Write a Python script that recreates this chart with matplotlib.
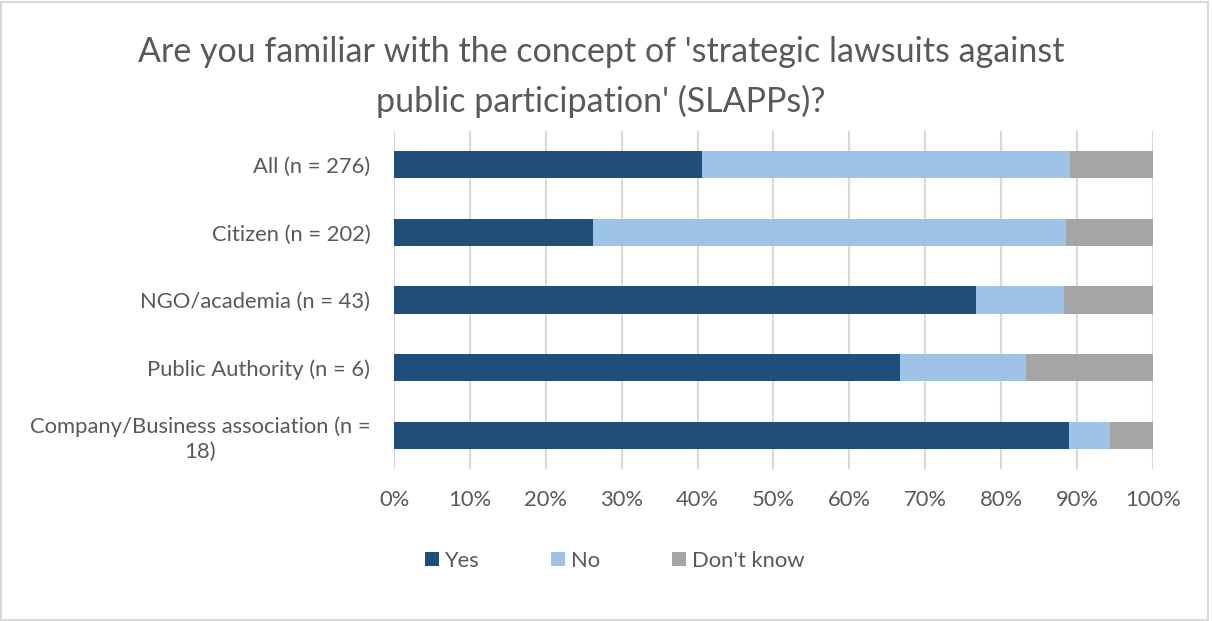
import matplotlib
matplotlib.use("Agg")
import matplotlib.pyplot as plt
from matplotlib.patches import Rectangle, Patch
from matplotlib.ticker import PercentFormatter

categories = ["All (n = 276)", "Citizen (n = 202)", "NGO/academia (n = 43)",
              "Public Authority (n = 6)", "Company/Business association (n =\n18)"]
yes = [40.6, 26.2, 76.7, 66.7, 88.9]
no = [48.5, 62.4, 11.6, 16.6, 5.5]
dont_know = [10.9, 11.4, 11.7, 16.7, 5.6]
series_names = ["Yes", "No", "Don't know"]
colors = ["#1F4E79", "#9DC3E6", "#A5A5A5"]
xticks = [0, 10, 20, 30, 40, 50, 60, 70, 80, 90, 100]
title_lines = ["Are you familiar with the concept of 'strategic lawsuits against",
               "public participation' (SLAPPs)?"]

plt.rcParams['font.family'] = ['Lato', 'DejaVu Sans']
text_color = "#595959"
grid_color = "#D9D9D9"

fig = plt.figure(figsize=(12.12, 6.21), dpi=100)
ax = fig.add_axes([0.3251, 0.2448, 0.9513 - 0.3251, 0.789 - 0.2448])

ypos = list(range(len(categories)))
left = [0] * len(categories)
for vals, name, col in zip([yes, no, dont_know], series_names, colors):
    ax.barh(ypos, vals, left=left, height=0.4, color=col, label=name, zorder=3)
    left = [l + v for l, v in zip(left, vals)]

ax.set_xlim(0, 100)
ax.set_ylim(len(categories) - 0.5, -0.5)
ax.set_yticks(ypos)
ax.set_yticklabels(categories, multialignment='center', linespacing=1.3)
ax.set_xticks(xticks)
ax.xaxis.set_major_formatter(PercentFormatter(decimals=0))
ax.tick_params(axis='both', length=0, labelsize=15.8, labelcolor=text_color)
ax.tick_params(axis='x', pad=15)
ax.tick_params(axis='y', pad=17)
for s in ax.spines.values():
    s.set_visible(False)
ax.grid(axis='x', color=grid_color, linewidth=1.5, zorder=0)

fig.text(601 / 1212, 1 - 62 / 621, title_lines[0],
         ha='center', va='baseline', fontsize=24.5, color=text_color)
fig.text(601 / 1212, 1 - 112 / 621, title_lines[1],
         ha='center', va='baseline', fontsize=24.5, color=text_color)

handles = [Patch(facecolor=c, edgecolor='none') for c in colors]
fig.legend(handles, series_names, loc='center', bbox_to_anchor=(614.5 / 1212, 1 - 561 / 621),
           ncol=3, frameon=False, fontsize=15.8, labelcolor=text_color,
           handlelength=0.63, handleheight=0.63, handletextpad=0.25, columnspacing=3.3)

fig.patches.append(Rectangle((0.001, 0.002), 0.996, 0.995, transform=fig.transFigure,
                             fill=False, edgecolor=grid_color, linewidth=1.5))

fig.savefig("out.png", dpi=100)
